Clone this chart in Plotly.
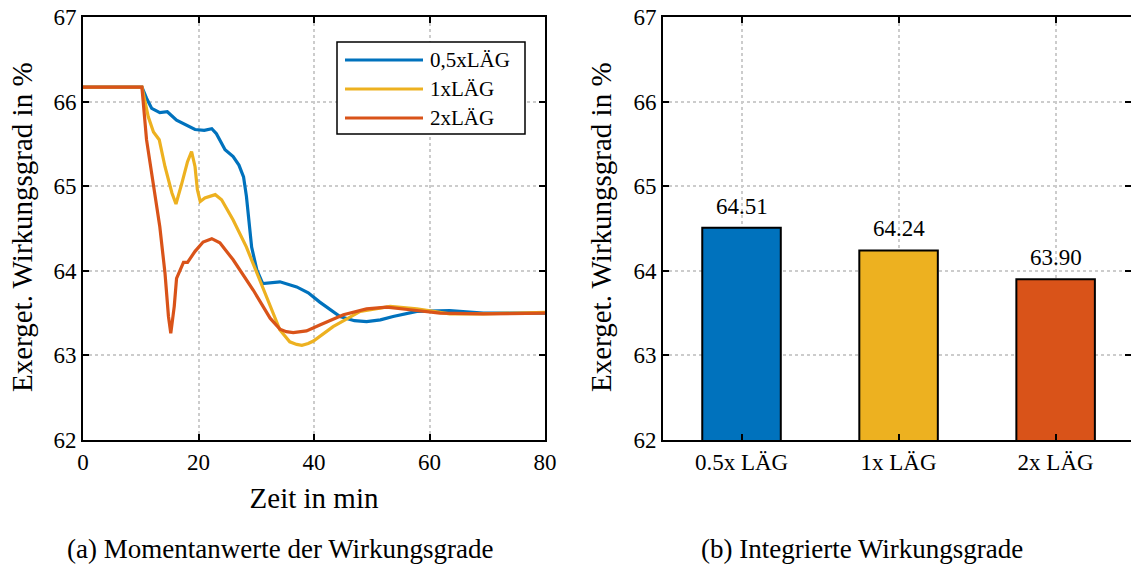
import plotly.graph_objects as go

# ---- data: left plot (time series) ----
t_blue = [0, 10.2, 11.0, 11.9, 13.3, 14.6, 16.2, 18.0, 19.4, 21.0, 22.3, 23.1, 24.6, 26.0, 27.0, 27.8, 28.3, 29.2, 30.1, 31.1,
          32.5, 34.1, 37.0, 39.0, 41.0, 44.5, 47.0, 49.1, 51.5, 53.7, 57.8, 63.5, 69.3, 80]
v_blue = [66.17, 66.17, 66.04, 65.92, 65.87, 65.88, 65.78, 65.72, 65.67, 65.66, 65.68, 65.62, 65.43, 65.35, 65.25, 65.11, 64.88, 64.28, 64.01, 63.85,
          63.86, 63.87, 63.81, 63.74, 63.63, 63.46, 63.41, 63.40, 63.42, 63.46, 63.52, 63.53, 63.50, 63.50]

t_yellow = [0, 10.2, 11.3, 12.2, 13.2, 14.2, 15.4, 16.1, 17.1, 18.1, 18.8, 19.4, 19.8, 20.3, 21.1, 22.9, 24.0,
            26.0, 28.3, 30.6, 32.4, 34.1, 35.8, 37.0, 37.9, 39.0, 39.9, 43.3, 48.0, 53.2, 57.8, 63.5, 69.3, 80]
v_yellow = [66.17, 66.17, 65.82, 65.64, 65.55, 65.23, 64.92, 64.79, 65.03, 65.29, 65.41, 65.23, 64.96, 64.82, 64.86, 64.90, 64.84,
            64.60, 64.28, 63.89, 63.58, 63.30, 63.16, 63.13, 63.12, 63.14, 63.17, 63.34, 63.52, 63.58, 63.55, 63.49, 63.49, 63.51]

t_red = [0, 10.2, 11.0, 12.2, 13.3, 14.2, 14.8, 15.2, 15.8, 16.2, 17.4, 18.1, 19.4, 20.8, 22.3, 23.7, 26.0,
         29.5, 32.4, 34.1, 35.2, 36.4, 38.7, 41.0, 45.1, 49.1, 52.6, 56.6, 61.8, 69.3, 80]
v_red = [66.17, 66.17, 65.55, 65.03, 64.52, 63.97, 63.46, 63.26, 63.58, 63.91, 64.10, 64.10, 64.23, 64.34, 64.38, 64.33, 64.13,
         63.77, 63.44, 63.31, 63.28, 63.27, 63.29, 63.36, 63.48, 63.55, 63.57, 63.54, 63.50, 63.49, 63.50]

series_names = ["0,5xLÄG", "1xLÄG", "2xLÄG"]

# ---- data: right plot (bars) ----
bar_labels = ["0.5x LÄG", "1x LÄG", "2x LÄG"]
bar_values = [64.51, 64.24, 63.90]
bar_pos = [1, 2, 3]

y_ticks = [62, 63, 64, 65, 66, 67]
x_ticks = [0, 20, 40, 60, 80]

colors = ["#0072BD", "#EDB120", "#D95319"]
FONT = "Liberation Serif"
TICK = 23
TITLE = 29
YTITLE = "Exerget. Wirkungsgrad in %"

fig = go.Figure()

for t, v, name, c in zip([t_blue, t_yellow, t_red], [v_blue, v_yellow, v_red], series_names, colors):
    fig.add_trace(go.Scatter(x=t, y=v, mode="lines", name=name, showlegend=False,
                             line=dict(color=c, width=3.2), xaxis="x", yaxis="y"))

fig.add_trace(go.Bar(x=bar_pos, y=bar_values, marker=dict(color=colors, line=dict(color="black", width=2)),
                     width=0.5, showlegend=False, xaxis="x2", yaxis="y2"))

axis_common = dict(showline=True, linecolor="black", linewidth=2, mirror="ticks", ticks="inside",
                   ticklen=6, tickwidth=1.5, tickcolor="black", showgrid=True, gridcolor="#cccccc",
                   griddash="dot", gridwidth=1.5, zeroline=False, automargin=False,
                   tickfont=dict(family=FONT, size=TICK, color="black"))

ydom = [1 - 440 / 567, 1 - 17 / 567]

annotations = [
    dict(text="(a) Momentanwerte der Wirkungsgrade", x=280 / 1131, y=1 - 549 / 567, xref="paper",
         yref="paper", showarrow=False, font=dict(family=FONT, size=27), xanchor="center", yanchor="middle"),
    dict(text="(b) Integrierte Wirkungsgrade", x=862 / 1131, y=1 - 549 / 567, xref="paper",
         yref="paper", showarrow=False, font=dict(family=FONT, size=27), xanchor="center", yanchor="middle"),
    # y-axis titles
    dict(text=YTITLE, x=22 / 1131, y=1 - 227 / 567, xref="paper", yref="paper", showarrow=False,
         textangle=-90, xanchor="center", yanchor="middle", font=dict(family=FONT, size=TITLE)),
    dict(text=YTITLE, x=601 / 1131, y=1 - 227 / 567, xref="paper", yref="paper", showarrow=False,
         textangle=-90, xanchor="center", yanchor="middle", font=dict(family=FONT, size=TITLE)),
]
# value labels above bars
for xp, v in zip(bar_pos, bar_values):
    annotations.append(dict(text=f"{v:.2f}", x=xp, y=v, xref="x2", yref="y2", showarrow=False,
                            yanchor="bottom", yshift=7, font=dict(family=FONT, size=TICK, color="black")))

# legend box (drawn to match the original's long line swatches)
LX0, LX1, LY0, LY1 = 337 / 1131, 525 / 1131, 1 - 134 / 567, 1 - 42 / 567
shapes = [dict(type="rect", xref="paper", yref="paper", x0=LX0, x1=LX1, y0=LY0, y1=LY1,
               line=dict(color="black", width=1.5), fillcolor="white", layer="above")]
row_y = [60, 89, 118]
for ry, name, c in zip(row_y, series_names, colors):
    yy = 1 - ry / 567
    shapes.append(dict(type="line", xref="paper", yref="paper", x0=345 / 1131, x1=423 / 1131, y0=yy, y1=yy,
                       line=dict(color=c, width=3.2), layer="above"))
    annotations.append(dict(text=name, x=428 / 1131, y=yy, xref="paper", yref="paper", showarrow=False,
                            xanchor="left", yanchor="middle", font=dict(family=FONT, size=21, color="black")))

fig.update_layout(
    width=1131, height=567, margin=dict(l=0, r=0, t=0, b=0, autoexpand=False),
    plot_bgcolor="white", paper_bgcolor="white",
    font=dict(family=FONT, size=TICK, color="black"),
    showlegend=False,
    xaxis=dict(domain=[83 / 1131, 545 / 1131], range=[0, 80], tickvals=x_ticks,
               title=dict(text="Zeit in min", font=dict(family=FONT, size=TITLE), standoff=14), **axis_common),
    yaxis=dict(domain=ydom, range=[62, 67], tickvals=y_ticks, **axis_common),
    xaxis2=dict(domain=[663 / 1131, 1.0], range=[0.5, 3.48], tickvals=bar_pos, ticktext=bar_labels,
                anchor="y2", **axis_common),
    yaxis2=dict(domain=ydom, range=[62, 67], tickvals=y_ticks, anchor="x2", **axis_common),
    annotations=annotations,
    shapes=shapes,
)

fig.write_html("out.html")
